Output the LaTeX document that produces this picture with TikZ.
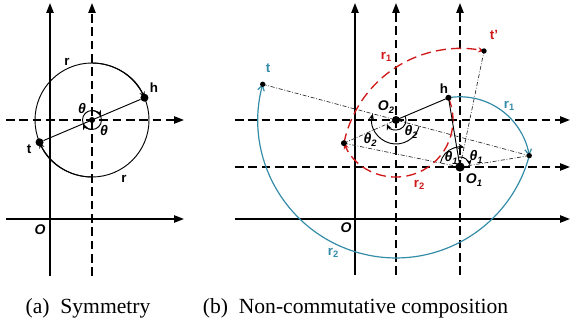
\documentclass[tikz,border=0pt]{standalone}
\usepackage{fontspec}
\setmainfont{Liberation Serif}
\newfontfamily\lsans{Liberation Sans}
\usetikzlibrary{arrows.meta,calc}
\definecolor{myblue}{RGB}{52,140,168}
\definecolor{myred}{RGB}{208,24,24}
\newcommand\mysub[1]{\raisebox{-0.35ex}{\fontsize{7}{7}\selectfont #1}}
\begin{document}
\begin{tikzpicture}[x=0.75pt,y=0.75pt,
  axis/.style={line width=1.1pt,-{Triangle[length=7.5pt,width=5.5pt]}},
  dax/.style={axis,dash pattern=on 6.5pt off 3.5pt},
  lab/.style={font=\lsans\bfseries\fontsize{10}{10}\selectfont,inner sep=0pt},
  ilab/.style={font=\lsans\bfseries\itshape\fontsize{10.5}{10.5}\selectfont,inner sep=0pt},
  dot/.style={circle,fill=black,inner sep=0pt,minimum size=#1},
  arcline/.style={line width=0.7pt},
  tip/.style={-{Stealth[length=4.5pt,width=4pt]}},
  btip/.style={-{Straight Barb[length=4pt,width=5pt]}},
  dd/.style={line width=0.5pt,black!85,dash pattern=on 3pt off 1.3pt on 0.6pt off 1.3pt},
  reddash/.style={line width=1pt,myred,dash pattern=on 7.5pt off 4pt},
  bluel/.style={line width=0.9pt,myblue},
  captxt/.style={font=\fontsize{16.2}{18}\selectfont,inner sep=0pt}
]
\useasboundingbox (0,0) rectangle (571,321);

% ---------------- panel (a) ----------------
\coordinate (aY0) at (50,45);  \coordinate (aY1) at (50,318);
\coordinate (aD0) at (92,45);  \coordinate (aD1) at (92,318);
\coordinate (aH0) at (6,201);  \coordinate (aH1) at (184,201);
\coordinate (aX0) at (6,102);  \coordinate (aX1) at (184,102);
\draw[axis] (aY0) -- (aY1);
\draw[dax] (aD0) -- (aD1);
\draw[dax] (aH0) -- (aH1);
\draw[axis] (aX0) -- (aX1);

\coordinate (C) at (92,201);
\draw[arcline] (C) circle[radius=57];
\draw[arcline,tip] ($(C)+(90:57)$) arc[start angle=90,end angle=23,radius=57];
\draw[arcline,tip] ($(C)+(270:57)$) arc[start angle=270,end angle=203,radius=57];
\draw[arcline] (C) circle[radius=9.5];
\draw[arcline,tip] ($(C)+(90:9.5)$) arc[start angle=90,end angle=23,radius=9.5];
\draw[arcline,tip] ($(C)+(270:9.5)$) arc[start angle=270,end angle=203,radius=9.5];
\node[dot=6pt] (ah) at ($(C)+(23:57)$) {};
\node[dot=6pt] (at) at ($(C)+(203:57)$) {};
\node[dot=4.5pt] (aC) at (C) {};
\draw[line width=0.7pt] (at) -- (ah);

\node[lab] (ar1) at (67,259) {r};
\node[lab] (ahl) at (154,233) {h};
\node[lab] (atl) at (29,172) {t};
\node[lab] (ar2) at (124,142) {r};
\node[ilab] (ath1) at (82,213) {θ};
\node[ilab] (ath2) at (104,191) {θ};
\node[ilab] (aO) at (40,91) {O};

% ---------------- panel (b) ----------------
\coordinate (bY0) at (355,46);  \coordinate (bY1) at (355,318);
\coordinate (bD0) at (396,46);  \coordinate (bD1) at (396,318);
\coordinate (bE0) at (460,46);  \coordinate (bE1) at (460,318);
\coordinate (bH0) at (235,201); \coordinate (bH1) at (570,201);
\coordinate (bG0) at (235,154); \coordinate (bG1) at (570,154);
\coordinate (bX0) at (235,102); \coordinate (bX1) at (570,102);
\draw[axis] (bY0) -- (bY1);
\draw[dax] (bD0) -- (bD1);
\draw[dax] (bE0) -- (bE1);
\draw[dax] (bH0) -- (bH1);
\draw[dax] (bG0) -- (bG1);
\draw[axis] (bX0) -- (bX1);

\coordinate (O2) at (396,201);
\coordinate (O1) at (460,154);
\coordinate (H) at ($(O2)+(23:57)$);
\coordinate (R) at ($(O1)+(9.3:70.2)$);
\coordinate (T) at ($(O2)+(165:138)$);
\coordinate (L) at ($(O2)+(204:57)$);
\coordinate (Tp) at ($(O1)+(78.3:118.5)$);

% dash-dot construction lines
\draw[dd] (T) -- (R);
\draw[dd] (L) -- (O2);
\draw[dd] (L) -- (O1);
\draw[dd] (O1) -- (R);
\draw[dd] (O1) -- (Tp);

% blue path
\draw[bluel,btip] (H) arc[start angle=99.4,end angle=9.3,radius=70.2];
\draw[bluel,btip] (R) arc[start angle=-15,end angle=-195,radius=138];

% red path
\draw[reddash,tip] (H) arc[start angle=23,end angle=-156,radius=57];
\draw[reddash,tip] (L) arc[start angle=168.4,end angle=78.3,radius=118.5];

% solid segments
\draw[line width=0.7pt] (O2) -- (H);
\draw[line width=0.7pt] (H) -- (O1);

% angle arcs
\draw[arcline,tip] ($(O2)+(-15:24)$) arc[start angle=-15,end angle=-195,radius=24];
\draw[arcline,tip] ($(O2)+(23:10)$) arc[start angle=23,end angle=-156,radius=10];
\draw[arcline,tip] ($(O1)+(168.4:20)$) arc[start angle=168.4,end angle=78.3,radius=20];
\draw[arcline,tip] ($(O1)+(99.4:10)$) arc[start angle=99.4,end angle=9.3,radius=10];

% points
\node[dot=6pt] (bO2) at (O2) {};
\node[dot=7pt] (bO1) at (O1) {};
\node[dot=4.5pt] (bH) at (H) {};
\node[dot=4pt] (bR) at (R) {};
\node[dot=4pt] (bT) at (T) {};
\node[dot=4.5pt] (bL) at (L) {};
\node[dot=4pt] (bTp) at (Tp) {};

% labels
\node[ilab] (lO2) at (386,214) {O\mysub{2}};
\node[ilab] (lO1) at (474,141) {O\mysub{1}};
\node[lab] (lh) at (444,232) {h};
\node[lab,text=myblue] (lt) at (268,253) {t};
\node[lab,text=myred] (ltp) at (494,286) {t’};
\node[lab,text=myred] (lr1r) at (386,264) {r\mysub{1}};
\node[lab,text=myblue] (lr1b) at (509,215) {r\mysub{1}};
\node[lab,text=myred] (lr2r) at (419,136) {r\mysub{2}};
\node[lab,text=myblue] (lr2b) at (333,68) {r\mysub{2}};
\node[ilab] (lO) at (346,93) {O};
\node[ilab] (lth2a) at (411,189) {θ\mysub{2}};
\node[ilab] (lth2b) at (370,181) {θ\mysub{2}};
\node[ilab] (lth1a) at (451,163) {θ\mysub{1}};
\node[ilab] (lth1b) at (476,164) {θ\mysub{1}};

% captions
\node[captxt] (capa) at (88,13) {(a)\hspace{0.5em}Symmetry};
\node[captxt] (capb) at (355.5,13) {(b)\hspace{0.5em}Non-commutative composition};
\end{tikzpicture}
\end{document}
